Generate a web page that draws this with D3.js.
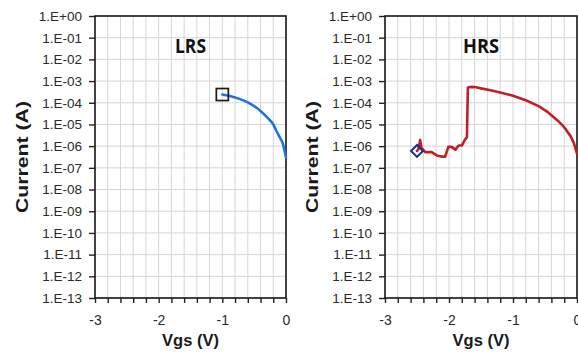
<!DOCTYPE html>
<html><head><meta charset="utf-8">
<script src="https://cdn.jsdelivr.net/npm/d3@7"></script>
<style>
html,body{margin:0;padding:0;background:#fff;}
svg{display:block;}
</style></head>
<body>
<svg id="chart" width="578" height="353"></svg>
<script>
// ---- data ----
const yTickValues = [1e0,1e-1,1e-2,1e-3,1e-4,1e-5,1e-6,1e-7,1e-8,1e-9,1e-10,1e-11,1e-12,1e-13];
const yTickLabels = ["1.E+00","1.E-01","1.E-02","1.E-03","1.E-04","1.E-05","1.E-06","1.E-07","1.E-08","1.E-09","1.E-10","1.E-11","1.E-12","1.E-13"];
const xTickValues = [-3,-2,-1,0];
const xTickLabels = ["-3","-2","-1","0"];
const xMinorTicks = [-3,-2.8,-2.6,-2.4,-2.2,-2,-1.8,-1.6,-1.4,-1.2,-1,-0.8,-0.6,-0.4,-0.2,0];

const lrsV = [-1.0,-0.9,-0.8,-0.7,-0.6,-0.5,-0.4,-0.3,-0.2,-0.15,-0.1,-0.05,0];
const lrsI = [2.4e-4,2.1e-4,1.75e-4,1.4e-4,1.05e-4,7e-5,4.2e-5,2.2e-5,1.0e-5,5e-6,2.6e-6,1.3e-6,3e-7];

const hrsV = [-2.5,-2.48,-2.45,-2.43,-2.37,-2.27,-2.19,-2.12,-2.06,-2.01,-1.96,-1.90,-1.85,-1.80,-1.75,-1.72,-1.705,-1.65,-1.58,-1.5,-1.35,-1.2,-1.0,-0.8,-0.6,-0.45,-0.3,-0.2,-0.1,-0.05,0];
const hrsI = [6e-7,7e-7,1.9e-6,8.3e-7,5.3e-7,5.3e-7,3.7e-7,3.3e-7,3.3e-7,9.3e-7,9.3e-7,6.9e-7,1.07e-6,1.07e-6,2e-6,2.6e-6,5.1e-4,5.4e-4,5.2e-4,4.6e-4,3.8e-4,3e-4,2.1e-4,1.3e-4,7e-5,3.6e-5,1.5e-5,7.5e-6,2.9e-6,1.4e-6,4.5e-7];

const panels = [
  {name:"LRS", left:95, right:286, V:lrsV, I:lrsI, color:"#2273e0", marker:"square"},
  {name:"HRS", left:385, right:577, V:hrsV, I:hrsI, color:"#c01f28", marker:"diamond"}
];

const svg = d3.select("#chart");
const plotTop = 16, plotBottom = 298;
const font = "'Liberation Sans', Arial, sans-serif";

panels.forEach(p => {
  const x = d3.scaleLinear().domain([-3,0]).range([p.left,p.right]);
  const y = d3.scaleLog().domain([1e-13,1]).range([plotBottom,plotTop]);
  const g = svg.append("g");

  // grid
  g.append("g").selectAll("line").data(xMinorTicks).join("line")
    .attr("x1",d=>x(d)).attr("x2",d=>x(d)).attr("y1",plotTop).attr("y2",plotBottom)
    .attr("stroke","#d6d6d6").attr("stroke-width",1);
  g.append("g").selectAll("line").data(yTickValues).join("line")
    .attr("x1",p.left).attr("x2",p.right).attr("y1",d=>y(d)).attr("y2",d=>y(d))
    .attr("stroke","#d6d6d6").attr("stroke-width",1);

  // y axis
  const ya = g.append("g").attr("transform",`translate(${p.left},0)`)
    .call(d3.axisLeft(y).tickValues(yTickValues).tickFormat((d,i)=>yTickLabels[i]).tickSize(6).tickPadding(7));
  ya.select(".domain").remove();
  ya.selectAll("line").attr("stroke","#222").attr("stroke-width",1.4);
  ya.selectAll("text").attr("font-family",font).attr("font-size",13.5).attr("fill","#2a2a2a");

  // x axis minor ticks
  const xm = g.append("g").attr("transform",`translate(0,${plotBottom})`)
    .call(d3.axisBottom(x).tickValues(xMinorTicks).tickFormat("").tickSize(5));
  xm.select(".domain").remove();
  xm.selectAll("line").attr("stroke","#222").attr("stroke-width",1.4);
  // x axis labels
  const xa = g.append("g").attr("transform",`translate(0,${plotBottom})`)
    .call(d3.axisBottom(x).tickValues(xTickValues).tickFormat((d,i)=>xTickLabels[i]).tickSize(0).tickPadding(17));
  xa.select(".domain").remove();
  xa.selectAll("text").attr("font-family",font).attr("font-size",14).attr("fill","#2a2a2a");

  // frame
  g.append("rect").attr("x",p.left).attr("y",plotTop).attr("width",p.right-p.left).attr("height",plotBottom-plotTop)
    .attr("fill","none").attr("stroke","#1a1a1a").attr("stroke-width",1.6);

  // data line
  const pts = p.V.map((v,i)=>[v,p.I[i]]);
  const line = d3.line().x(d=>x(d[0])).y(d=>y(d[1]));
  if (p.marker==="square") line.curve(d3.curveMonotoneX);
  g.append("path").datum(pts).attr("d",line).attr("fill","none")
    .attr("stroke",p.color).attr("stroke-width",2.6).attr("stroke-linejoin","round").attr("stroke-linecap","round");

  // marker at first point
  const mx = x(pts[0][0]), my = y(pts[0][1]);
  if (p.marker==="square") {
    g.append("rect").attr("x",mx-6).attr("y",my-6).attr("width",12).attr("height",12)
      .attr("fill","none").attr("stroke","#1a1a1a").attr("stroke-width",1.7);
  } else {
    g.append("rect").attr("x",-4.2).attr("y",-4.2).attr("width",8.4).attr("height",8.4)
      .attr("transform",`translate(${mx},${my}) rotate(45)`)
      .attr("fill","none").attr("stroke","#1d2f80").attr("stroke-width",2);
  }

  // state label
  const cx = (p.left+p.right)/2;
  g.append("text").attr("x",cx).attr("y",53).attr("text-anchor","middle")
    .attr("font-family","'Open Sans','Noto Sans',sans-serif").attr("font-weight","bold")
    .attr("font-size",20).attr("fill","#111")
    .attr("textLength", p.name==="LRS"?31:36).attr("lengthAdjust","spacingAndGlyphs")
    .text(p.name);

  // x title
  g.append("text").attr("x",cx).attr("y",346).attr("text-anchor","middle")
    .attr("font-family",font).attr("font-weight","bold").attr("font-size",16.5).attr("fill","#1a1a1a")
    .text("Vgs (V)");

  // y title
  const tx = p.left - 67;
  g.append("text").attr("transform",`translate(${tx},157) rotate(-90)`).attr("text-anchor","middle")
    .attr("font-family",font).attr("font-weight","bold").attr("font-size",17).attr("fill","#1a1a1a")
    .attr("textLength",112).attr("lengthAdjust","spacingAndGlyphs")
    .text("Current (A)");
});
</script>
</body></html>
